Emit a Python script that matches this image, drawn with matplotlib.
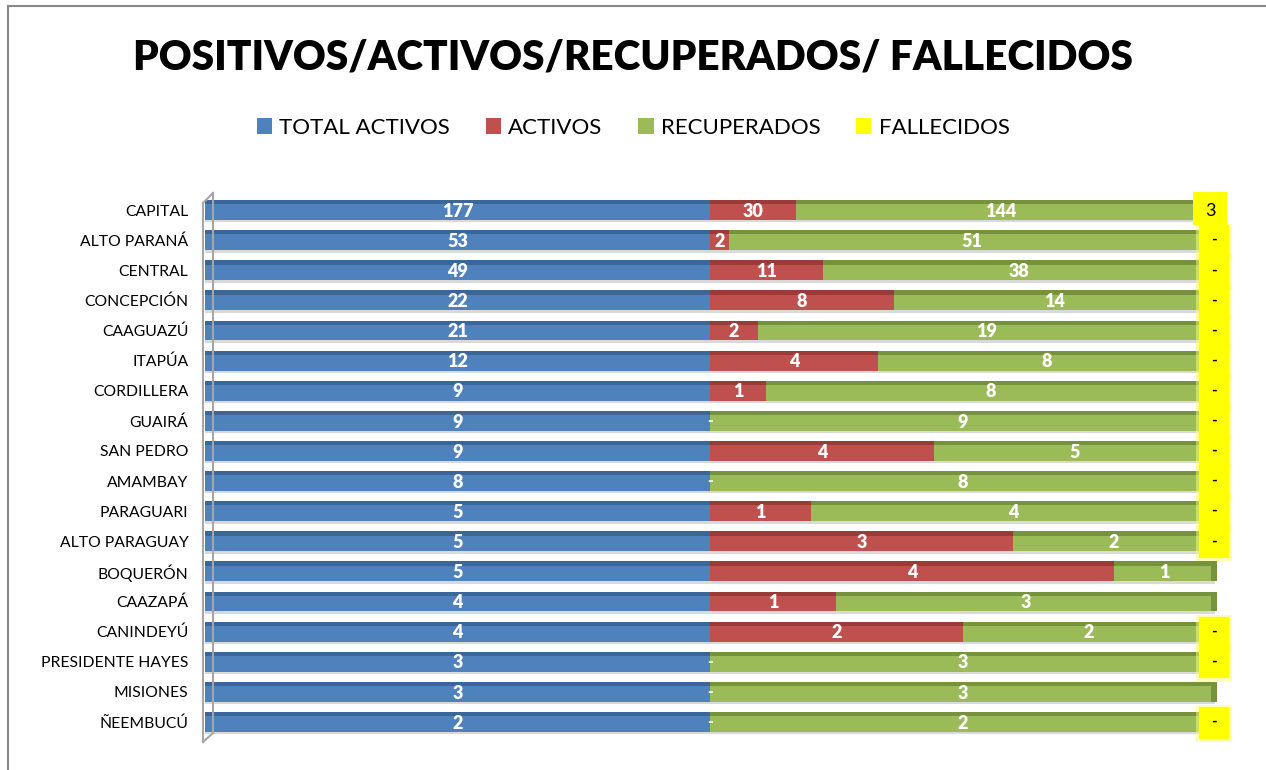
import matplotlib
matplotlib.use("Agg")
import matplotlib.pyplot as plt
from matplotlib.patches import Rectangle, Patch
from matplotlib.lines import Line2D
import numpy as np

plt.rcParams['font.family'] = ['Lato', 'DejaVu Sans']

departamentos = ["CAPITAL", "ALTO PARANÁ", "CENTRAL", "CONCEPCIÓN", "CAAGUAZÚ", "ITAPÚA",
                 "CORDILLERA", "GUAIRÁ", "SAN PEDRO", "AMAMBAY", "PARAGUARI", "ALTO PARAGUAY",
                 "BOQUERÓN", "CAAZAPÁ", "CANINDEYÚ", "PRESIDENTE HAYES", "MISIONES", "ÑEEMBUCÚ"]
total_activos = [177, 53, 49, 22, 21, 12, 9, 9, 9, 8, 5, 5, 5, 4, 4, 3, 3, 2]
activos = [30, 2, 11, 8, 2, 4, 1, 0, 4, 0, 1, 3, 4, 1, 2, 0, 0, 0]
recuperados = [144, 51, 38, 14, 19, 8, 8, 9, 5, 8, 4, 2, 1, 3, 2, 3, 3, 2]
fallecidos = [3, 0, 0, 0, 0, 0, 0, 0, 0, 0, 0, 0, 0, 0, 0, 0, 0, 0]
fallecidos_etiqueta = [True] * 12 + [False, False, True, True, False, True]

series_names = ["TOTAL ACTIVOS", "ACTIVOS", "RECUPERADOS", "FALLECIDOS"]
colors = ["#4F81BD", "#C0504D", "#9BBB59", "#FFFF00"]
top_colors = ["#3B6699", "#9B3B38", "#76923C", "#CCCC00"]

W, H = 1266, 770
fig = plt.figure(figsize=(W / 100, H / 100), dpi=100)

ax_left, ax_right = 205 / W, 1215 / W
ax_top_px, ax_bot_px = 195, 737
ax = fig.add_axes([ax_left, 1 - ax_bot_px / H, ax_right - ax_left, (ax_bot_px - ax_top_px) / H])

n = len(departamentos)
y = np.arange(n)
tot = np.array(total_activos, float)
denom = 2 * tot
segs = [np.array(total_activos) / denom, np.array(activos) / denom,
        np.array(recuperados) / denom, np.array(fallecidos) / denom]

bh = 0.66
left = np.zeros(n)
for k, seg in enumerate(segs):
    ax.barh(y, seg, left=left, height=bh, color=colors[k], edgecolor='none', zorder=3)
    # darker top face strip
    ax.barh(y - bh / 2 + 0.07, seg, left=left, height=0.14, color=top_colors[k],
            edgecolor='none', zorder=4)
    left = left + seg

# light shadow under each bar
ax.barh(y + bh / 2 + 0.04, np.ones(n), left=0, height=0.08, color="#D9D9D9",
        edgecolor='none', zorder=2)

px = 1 / 1010.0
# 3D end caps where no label box covers the end
for i in range(n):
    if not fallecidos_etiqueta[i]:
        ax.add_patch(Rectangle((1 - 4 * px, i - bh / 2), 6 * px, bh, facecolor="#76923C",
                               edgecolor='none', zorder=5, clip_on=False))

bold = dict(color='white', fontweight='heavy', zorder=6)
for i in range(n):
    t = segs[0][i]
    ax.text(t / 2, i + 0.04, str(total_activos[i]), ha='center', va='center',
            fontsize=13, **bold)
    a = segs[1][i]
    if activos[i]:
        ax.text(0.5 + a / 2, i + 0.04, str(activos[i]), ha='center', va='center',
                fontsize=13, **bold)
    else:
        ax.text(0.5, i + 0.02, "-", ha='center', va='center', fontsize=11, **bold)
    r = segs[2][i]
    ax.text(0.5 + a + r / 2, i + 0.04, str(recuperados[i]), ha='center', va='center',
            fontsize=13, **bold)

# fallecidos labels (yellow boxes)
for i in range(n):
    if not fallecidos_etiqueta[i]:
        continue
    if fallecidos[i]:
        x0, x1 = 1 - 22 * px, 1 + 12 * px
        y0, y1 = i - 0.6, i + 0.5
        ax.add_patch(Rectangle((x0, y0), x1 - x0, y1 - y0, facecolor="#FFFF00",
                               edgecolor='none', zorder=7, clip_on=False))
        ax.text((x0 + x1) / 2, i + 0.02, str(fallecidos[i]), ha='center', va='center',
                color='black', fontsize=13, zorder=8, clip_on=False)
    else:
        x0, x1 = 1 - 16 * px, 1 + 14 * px
        y0, y1 = i - 0.5, i + 0.55
        ax.add_patch(Rectangle((x0 - 3 * px, y0 - 0.05), x1 - x0 + 6 * px, y1 - y0 + 0.15,
                               facecolor="#FFFF66", alpha=0.5, edgecolor='none', zorder=6,
                               clip_on=False))
        ax.add_patch(Rectangle((x0, y0), x1 - x0, y1 - y0, facecolor="#FFFF00",
                               edgecolor='none', zorder=7, clip_on=False))
        ax.text((x0 + x1) / 2, i, "-", ha='center', va='center', fontweight='bold',
                color='black', fontsize=11, zorder=8, clip_on=False)

ax.set_xlim(0, 1)
ax.set_ylim(n - 0.5, -0.5)
ax.set_yticks(y)
ax.set_yticklabels(departamentos, fontsize=11.3)
ax.tick_params(axis='y', length=0, pad=12)
ax.set_xticks([])
for s in ax.spines.values():
    s.set_visible(False)

# 3D-like left wall
def fl(x, yy):
    return x / W, 1 - yy / H
wall_col = "#A6A6A6"
for (xa, ya), (xb, yb) in [((203, 203), (203, 742)), ((213, 193), (213, 733)),
                           ((203, 203), (213, 193)), ((203, 742), (213, 733))]:
    fig.add_artist(Line2D([fl(xa, ya)[0], fl(xb, yb)[0]], [fl(xa, ya)[1], fl(xb, yb)[1]],
                          color=wall_col, lw=1.5, zorder=1))

# title
fig.text(0.5, 1 - 58 / H, "POSITIVOS/ACTIVOS/RECUPERADOS/ FALLECIDOS", ha='center', va='center',
         fontsize=29.2, fontweight='heavy', color='black')

# legend
handles = [Patch(facecolor=c, edgecolor='none') for c in colors]
fig.legend(handles, series_names, loc='center', bbox_to_anchor=(0.5, 1 - 128 / H), ncol=4,
           frameon=False, fontsize=16, handlelength=0.7, handleheight=0.7,
           handletextpad=0.32, columnspacing=1.6)

# outer border
fig.add_artist(Line2D([8 / W, 1], [1 - 6 / H, 1 - 6 / H], color="#888888", lw=1.5))
fig.add_artist(Line2D([8 / W, 8 / W], [0, 1 - 6 / H], color="#888888", lw=1.5))

fig.savefig("out.png", dpi=100)
